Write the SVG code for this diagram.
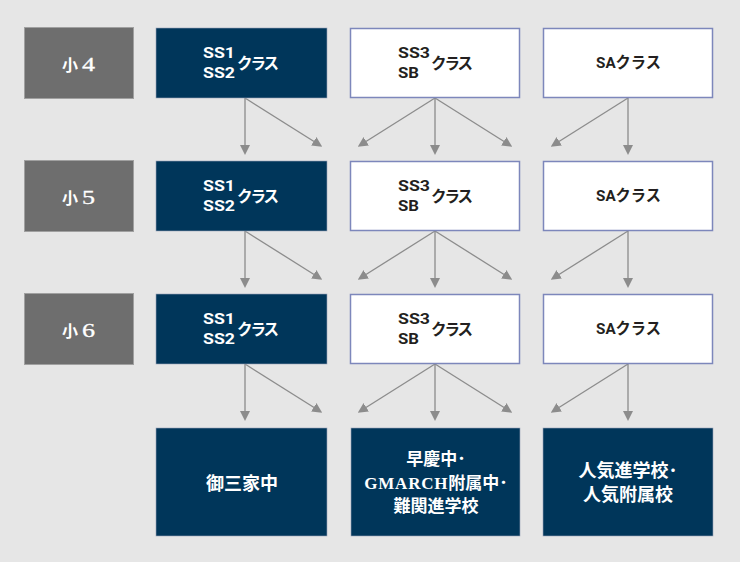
<svg xmlns="http://www.w3.org/2000/svg" width="740" height="562" viewBox="0 0 740 562">
<style>
.lbl{fill:#6e6e6e;stroke:#a0a0a0;stroke-width:1}
.lt{fill:#fff;font-family:"Liberation Serif","Noto Sans CJK JP",serif;font-weight:bold;font-size:16px}
.ln{fill:#fff;font-family:"Liberation Serif",serif;font-size:18px;stroke:#fff;stroke-width:0.3}
.dk{fill:#00365a;stroke:#9aa4b8;stroke-width:0.6}
.wt{fill:#fff;stroke:#7d87bb;stroke-width:1.5}
.tw{fill:#fff;font-family:Roboto,"Noto Sans CJK JP",sans-serif;font-weight:bold;font-size:15.5px}
.tb{fill:#231f20;font-family:Roboto,"Noto Sans CJK JP",sans-serif;font-weight:bold;font-size:15.5px}
.bt{fill:#fff;font-family:"Liberation Serif","Noto Sans CJK JP",serif;font-weight:bold;font-size:18px;text-anchor:middle}
.bt2{fill:#fff;font-family:"Liberation Serif","Noto Sans CJK JP",serif;font-weight:bold;font-size:17px;text-anchor:middle}
.ar{stroke:#8c8c8c;stroke-width:1.3;fill:none;marker-end:url(#ah)}
</style>
<defs>
<marker id="ah" viewBox="0 0 10 10" refX="5" refY="5" markerWidth="10" markerHeight="10" markerUnits="userSpaceOnUse" orient="auto">
<path d="M0,0 L10,5 L0,10 z" fill="#8c8c8c"/>
</marker>
</defs>
<rect width="740" height="562" fill="#e6e6e6"/>
<g id="connectors">
<path class="ar" d="M245,98 V150"/><path class="ar" d="M245,98 L318,144"/>
<path class="ar" d="M435,98 L362,144"/><path class="ar" d="M435,98 V150"/><path class="ar" d="M435,98 L508,144"/>
<path class="ar" d="M628,98 L555,144"/><path class="ar" d="M628,98 V150"/>
<path class="ar" d="M245,231 V283"/><path class="ar" d="M245,231 L318,277"/>
<path class="ar" d="M435,231 L362,277"/><path class="ar" d="M435,231 V283"/><path class="ar" d="M435,231 L508,277"/>
<path class="ar" d="M628,231 L555,277"/><path class="ar" d="M628,231 V283"/>
<path class="ar" d="M245,364 V416"/><path class="ar" d="M245,364 L318,410"/>
<path class="ar" d="M435,364 L362,410"/><path class="ar" d="M435,364 V416"/><path class="ar" d="M435,364 L508,410"/>
<path class="ar" d="M628,364 L555,410"/><path class="ar" d="M628,364 V416"/>
</g>
<g id="g4"><rect class="lbl" x="24.5" y="27.5" width="109" height="71"/><text class="lt" x="62" y="71">小</text><text class="ln" x="82" y="71" textLength="13" lengthAdjust="spacingAndGlyphs">4</text></g>
<g id="g5"><rect class="lbl" x="24.5" y="160.5" width="109" height="71"/><text class="lt" x="62" y="204">小</text><text class="ln" x="82" y="204" textLength="13" lengthAdjust="spacingAndGlyphs">5</text></g>
<g id="g6"><rect class="lbl" x="24.5" y="293.5" width="109" height="71"/><text class="lt" x="62" y="337">小</text><text class="ln" x="82" y="337" textLength="13" lengthAdjust="spacingAndGlyphs">6</text></g>

<g id="r1c1"><rect class="dk" x="156" y="28" width="171" height="70"/><text class="tw" x="203" y="58" textLength="32" lengthAdjust="spacingAndGlyphs">SS1</text><text class="tw" x="203" y="78" textLength="32" lengthAdjust="spacingAndGlyphs">SS2</text><text class="tw" x="237" y="69" textLength="42">クラス</text></g>
<g id="r1c2"><rect class="wt" x="350.5" y="28.5" width="169" height="69"/><text class="tb" x="398" y="58" textLength="32" lengthAdjust="spacingAndGlyphs">SS3</text><text class="tb" x="398" y="78" textLength="21" lengthAdjust="spacingAndGlyphs">SB</text><text class="tb" x="431" y="69" textLength="42">クラス</text></g>
<g id="r1c3"><rect class="wt" x="543.5" y="28.5" width="169" height="69"/><text class="tb" x="596" y="68" textLength="65" lengthAdjust="spacingAndGlyphs">SAクラス</text></g>

<g id="r2c1"><rect class="dk" x="156" y="161" width="171" height="70"/><text class="tw" x="203" y="191" textLength="32" lengthAdjust="spacingAndGlyphs">SS1</text><text class="tw" x="203" y="211" textLength="32" lengthAdjust="spacingAndGlyphs">SS2</text><text class="tw" x="237" y="202" textLength="42">クラス</text></g>
<g id="r2c2"><rect class="wt" x="350.5" y="161.5" width="169" height="69"/><text class="tb" x="398" y="191" textLength="32" lengthAdjust="spacingAndGlyphs">SS3</text><text class="tb" x="398" y="211" textLength="21" lengthAdjust="spacingAndGlyphs">SB</text><text class="tb" x="431" y="202" textLength="42">クラス</text></g>
<g id="r2c3"><rect class="wt" x="543.5" y="161.5" width="169" height="69"/><text class="tb" x="596" y="201" textLength="65" lengthAdjust="spacingAndGlyphs">SAクラス</text></g>

<g id="r3c1"><rect class="dk" x="156" y="294" width="171" height="70"/><text class="tw" x="203" y="324" textLength="32" lengthAdjust="spacingAndGlyphs">SS1</text><text class="tw" x="203" y="344" textLength="32" lengthAdjust="spacingAndGlyphs">SS2</text><text class="tw" x="237" y="335" textLength="42">クラス</text></g>
<g id="r3c2"><rect class="wt" x="350.5" y="294.5" width="169" height="69"/><text class="tb" x="398" y="324" textLength="32" lengthAdjust="spacingAndGlyphs">SS3</text><text class="tb" x="398" y="344" textLength="21" lengthAdjust="spacingAndGlyphs">SB</text><text class="tb" x="431" y="335" textLength="42">クラス</text></g>
<g id="r3c3"><rect class="wt" x="543.5" y="294.5" width="169" height="69"/><text class="tb" x="596" y="334" textLength="65" lengthAdjust="spacingAndGlyphs">SAクラス</text></g>

<g id="b1"><rect class="dk" x="156" y="428" width="171" height="108"/><text class="bt" x="242" y="490">御三家中</text></g>
<g id="b2"><rect class="dk" x="351" y="428" width="169" height="108"/><text class="bt2" x="436" y="465">早慶中･</text><text class="bt2" x="436" y="489"><tspan letter-spacing="0.8">GMARCH</tspan>附属中･</text><text class="bt2" x="436" y="512">難関進学校</text></g>
<g id="b3"><rect class="dk" x="543" y="428" width="170" height="108"/><text class="bt" x="628" y="477">人気進学校･</text><text class="bt" x="628" y="501">人気附属校</text></g>
</svg>
